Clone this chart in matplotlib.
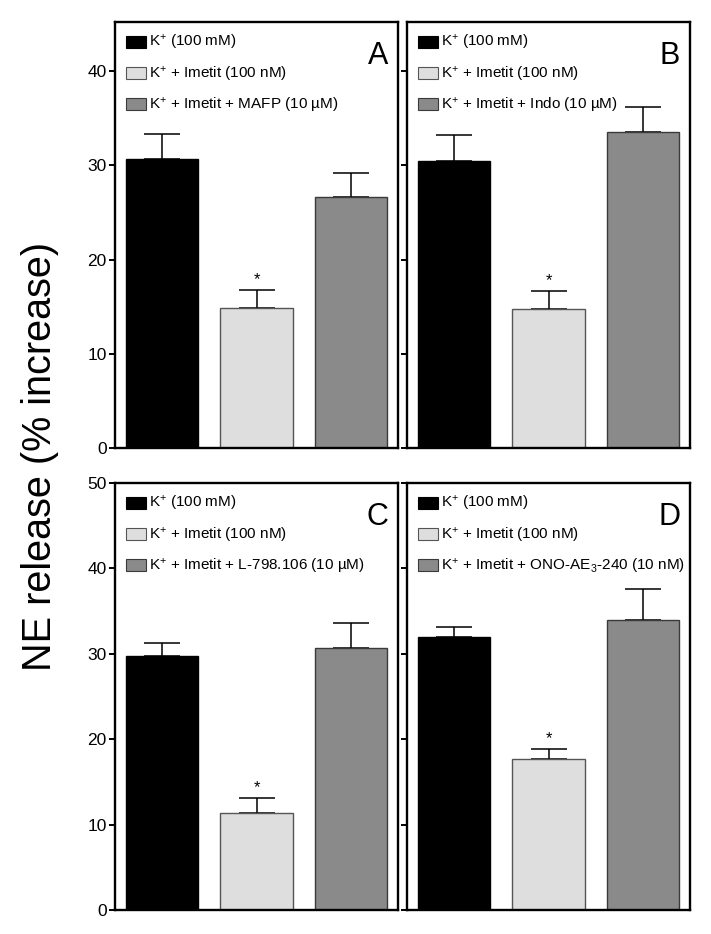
import matplotlib
matplotlib.use("Agg")
import matplotlib.pyplot as plt
from matplotlib.patches import Patch

plt.rcParams["font.family"] = ["Liberation Sans", "DejaVu Sans"]
plt.rcParams["mathtext.fontset"] = "custom"
plt.rcParams["mathtext.rm"] = "Liberation Sans"
plt.rcParams["mathtext.it"] = "Liberation Sans"
plt.rcParams["mathtext.default"] = "regular"

# Datos (media y error, % de aumento)
paneles = ["A", "B", "C", "D"]
medias_A = [30.7, 14.9, 26.6]
errores_A = [2.6, 1.9, 2.6]
medias_B = [30.5, 14.8, 33.5]
errores_B = [2.7, 1.9, 2.7]
medias_C = [29.7, 11.4, 30.7]
errores_C = [1.6, 1.7, 2.9]
medias_D = [32.0, 17.7, 34.0]
errores_D = [1.1, 1.2, 3.6]

leyenda_comun = ["K$^{+}$ (100 mM)", "K$^{+}$ + Imetit (100 nM)"]
tercer_grupo = [
    "K$^{+}$ + Imetit + MAFP (10 µM)",
    "K$^{+}$ + Imetit + Indo (10 µM)",
    "K$^{+}$ + Imetit + L-798.106 (10 µM)",
    "K$^{+}$ + Imetit + ONO-AE$_{3}$-240 (10 nM)",
]
asterisco = [False, True, False]

colores = ["#000000", "#dedede", "#8a8a8a"]
bordes = ["#000000", "#555555", "#3a3a3a"]

medias = [medias_A, medias_B, medias_C, medias_D]
errores = [errores_A, errores_B, errores_C, errores_D]

fig = plt.figure(figsize=(7.11, 9.34), dpi=100)
W, H = 711, 934
cajas = [
    (115, 22, 283, 426),
    (407, 22, 283, 426),
    (115, 483, 283, 427),
    (407, 483, 283, 427),
]

for i, (x0, y0, w, h) in enumerate(cajas):
    ax = fig.add_axes([x0 / W, 1 - (y0 + h) / H, w / W, h / H])
    xs = [0, 1, 2]
    ax.bar(xs, medias[i], width=0.77, color=colores, edgecolor=bordes,
           linewidth=1.0, zorder=2)
    ax.errorbar(xs, medias[i], yerr=[[0, 0, 0], errores[i]], fmt="none",
                ecolor="black", elinewidth=1.1, capsize=13, capthick=1.1,
                zorder=1)
    for x, m, e, s in zip(xs, medias[i], errores[i], asterisco):
        if s:
            ax.text(x, m + e + 0.3, "*", ha="center", va="bottom",
                    fontsize=12)

    ax.set_xlim(-0.5, 2.5)
    if i < 2:
        ax.set_ylim(0, 45.2)
        ax.set_yticks([0, 10, 20, 30, 40])
    else:
        ax.set_ylim(0, 50)
        ax.set_yticks([0, 10, 20, 30, 40, 50])
    ax.set_xticks([])
    ax.tick_params(axis="y", direction="out", length=4, width=1.4,
                   labelsize=12.5, pad=2)
    if i % 2 == 1:
        ax.tick_params(axis="y", labelleft=False)
    for sp in ax.spines.values():
        sp.set_linewidth(1.7)

    etiquetas = leyenda_comun + [tercer_grupo[i]]
    handles = [Patch(facecolor=c, edgecolor=b, linewidth=0.8)
               for c, b in zip(colores, bordes)]
    ax.legend(handles, etiquetas, loc="upper left", frameon=False,
              fontsize=11, handlelength=1.3, handleheight=0.85,
              handletextpad=0.15, labelspacing=0.8, borderaxespad=0.35,
              borderpad=0.4)
    ax.text(0.965, 0.955, paneles[i], transform=ax.transAxes, ha="right",
            va="top", fontsize=22)

fig.text(0.056, 0.511, "NE release (% increase)", rotation=90,
         ha="center", va="center", fontsize=28.5)

plt.savefig("out.png", dpi=100)
